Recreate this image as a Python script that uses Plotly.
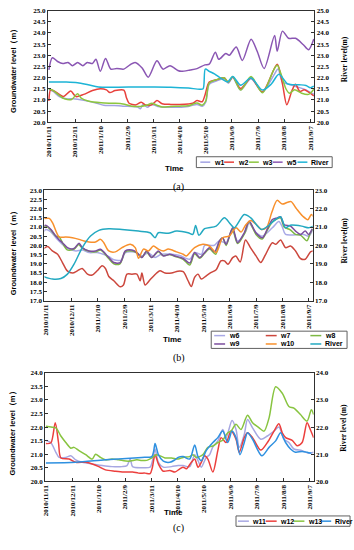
import plotly.graph_objects as go
import pandas as pd

# ---------------- data ----------------
START = "2010/11/11"
TICK_LABELS = ["2010/11/11", "2010/12/11", "2011/1/10", "2011/2/9", "2011/3/11", "2011/4/10",
               "2011/5/10", "2011/6/9", "2011/7/9", "2011/8/8", "2011/9/7"]

# Panel (a) -- days since START, groundwater / river level (m)
a_w1_day = [0, 5, 12, 20, 28, 40, 55, 63, 75, 85, 95, 102, 105, 108, 113, 118, 125, 140, 160, 170, 176, 180,
            184, 192, 201, 206, 211, 220, 232, 245, 258, 263, 268, 275, 285, 295, 304]
a_w1_val = [21.48, 21.38, 21.15, 21.05, 21.05, 20.98, 20.85, 20.76, 20.75, 20.72, 20.71, 20.68, 20.6, 20.8,
            20.67, 20.8, 20.71, 20.67, 20.71, 20.8, 20.72, 20.9, 21.7, 21.85, 21.95, 21.75, 22.0, 21.45, 21.95,
            21.35, 22.1, 22.38, 21.8, 21.7, 21.58, 21.45, 21.25]
a_w2_day = [0, 2, 6, 12, 17, 25, 31, 40, 50, 59, 66, 70, 76, 86, 89, 92, 100, 106, 111, 118, 124, 130, 140,
            150, 160, 165, 170, 176, 179, 184, 192, 201, 206, 211, 220, 232, 245, 262, 268, 273, 279, 283, 288,
            293, 298, 304]
a_w2_val = [20.95, 21.45, 21.4, 21.25, 21.15, 21.4, 21.15, 21.25, 21.42, 21.5, 21.45, 21.33, 21.42, 21.44,
            21.1, 20.85, 20.78, 20.9, 20.77, 20.78, 20.97, 20.83, 20.8, 20.8, 20.82, 20.85, 20.97, 20.92, 21.2,
            21.8, 21.9, 21.99, 21.8, 22.03, 21.51, 21.98, 21.36, 22.6, 21.72, 20.78, 21.42, 21.7, 21.38, 21.45,
            21.35, 21.18]
a_w3_day = [0, 5, 12, 18, 26, 33, 37, 45, 60, 75, 85, 95, 105, 113, 118, 124, 130, 140, 150, 160, 170, 176,
            180, 184, 192, 201, 206, 211, 220, 232, 245, 258, 262, 266, 272, 276, 282, 290, 298, 304]
a_w3_val = [21.5, 21.42, 21.2, 21.05, 21.02, 21.28, 21.08, 20.95, 20.87, 20.85, 20.82, 20.72, 20.71, 20.77,
            20.85, 20.76, 20.68, 20.71, 20.72, 20.74, 20.86, 20.76, 20.95, 21.76, 21.9, 21.99, 21.8, 22.05,
            21.44, 22.05, 21.32, 22.35, 22.55, 22.2, 21.5, 21.3, 21.45, 21.3, 21.25, 21.48]
a_w5_day = [0, 4, 10, 16, 22, 27, 33, 39, 44, 50, 54, 59, 65, 71, 78, 86, 93, 99, 107, 114, 124, 131, 139,
            148, 152, 162, 170, 179, 184, 191, 195, 203, 207, 215, 222, 232, 239, 247, 259, 262, 268, 275, 283,
            292, 298, 304]
a_w5_val = [22.35, 22.89, 22.72, 22.63, 22.68, 22.53, 22.68, 22.53, 22.68, 22.63, 22.82, 22.28, 22.86, 22.38,
            22.41, 22.38, 22.57, 22.68, 22.43, 22.02, 22.75, 22.38, 22.53, 22.32, 22.28, 22.34, 22.4, 22.57,
            22.6, 23.14, 22.82, 23.08, 23.0, 23.37, 22.77, 23.72, 23.18, 22.41, 23.88, 23.18, 24.08, 23.76,
            23.76, 23.47, 23.25, 23.73]
a_riv_day = [0, 20, 33, 45, 57, 80, 100, 120, 140, 160, 173, 177, 179.5, 184, 190, 198, 205, 211, 220, 232,
             245, 255, 264, 274, 287, 295, 300, 304]
a_riv_val = [21.8, 21.8, 21.77, 21.68, 21.58, 21.57, 21.58, 21.58, 21.57, 21.53, 21.48, 21.5, 22.38, 22.28,
             22.17, 21.95, 21.8, 22.05, 21.66, 21.98, 21.44, 21.7, 22.15, 21.72, 21.68, 21.65, 21.55, 21.62]

# Panel (b)
b_w6_day = [-3, 0.7, 6, 12, 19.5, 27, 35, 42, 50, 59, 72, 78, 87, 91, 102, 110, 117, 125, 132, 144, 153,
            164.5, 170, 178, 181.4, 192, 198, 206, 213, 219, 228.5, 232, 240, 247, 258.6, 266, 270, 273.6,
            294, 300, 305]
b_w6_val = [20.69, 20.87, 20.75, 20.42, 20.06, 19.8, 19.7, 19.75, 19.61, 19.61, 19.4, 19.22, 19.22, 19.6,
            19.64, 19.42, 19.6, 19.35, 19.52, 19.52, 19.45, 19.25, 19.61, 19.52, 20.0, 20.0, 20.24, 20.15,
            20.87, 20.24, 20.78, 21.2, 20.7, 20.5, 20.96, 21.3, 21.0, 20.6, 20.6, 20.5, 20.87]
b_w7_day = [-3, 2.6, 8, 14, 19.5, 25, 31, 36.5, 42, 48, 53.4, 59, 64.7, 68.5, 72.3, 78, 85.4, 89, 93, 98.6,
            104.3, 108, 110, 113.7, 119.3, 126.8, 130.6, 136.3, 143.8, 151, 157, 162.6, 166.3, 170, 174, 177.6,
            183.3, 189, 194.6, 200, 204, 208, 213.4, 217, 222, 228, 234, 240, 245.4, 251, 258.6, 262.4, 268,
            273.6, 279.3, 285, 290.6, 296, 302, 305]
b_w7_val = [19.79, 19.94, 19.7, 19.52, 19.07, 18.62, 18.5, 18.62, 18.75, 18.44, 18.39, 18.62, 18.89, 18.75,
            18.31, 18.08, 17.75, 17.85, 18.44, 18.44, 18.44, 18.08, 18.5, 17.85, 18.13, 18.5, 18.62, 18.5,
            18.5, 18.6, 18.57, 18.08, 17.77, 18.26, 18.44, 18.17, 18.35, 18.53, 18.68, 19.16, 19.16, 18.98,
            19.34, 19.43, 19.1, 20.3, 19.85, 19.43, 19.07, 19.52, 20.15, 20.06, 20.3, 19.88, 19.97, 19.7,
            19.29, 19.25, 19.65, 19.7]
b_w8_day = [-3, 0.7, 6, 12, 16, 20, 25, 33, 38, 42, 50, 57, 63, 72, 78, 85, 91, 99, 104, 110, 115, 121, 129,
            134, 142, 148, 157, 164.5, 170, 176, 181, 187, 194, 198, 202, 206, 213, 219, 227, 232, 240, 247, 253,
            259, 264, 268, 272, 279, 285, 291, 298, 302, 305]
b_w8_val = [21.0, 21.05, 20.85, 20.5, 20.45, 20.1, 19.76, 19.8, 20.05, 19.85, 19.68, 19.65, 19.75, 19.3,
            19.0, 19.0, 19.65, 19.7, 19.6, 19.35, 19.65, 19.35, 19.65, 19.45, 19.5, 19.4, 19.25, 18.93, 19.55,
            19.3, 19.55, 19.8, 19.52, 20.2, 20.4, 20.0, 20.9, 20.1, 20.65, 21.3, 20.6, 20.35, 20.85, 21.3,
            21.45, 21.5, 21.0, 20.85, 20.6, 20.55, 20.25, 20.7, 20.9]
b_w9_day = [-3, 0.7, 6.4, 12, 15.8, 19.5, 25.2, 32.7, 38.4, 42.1, 49.7, 57.2, 62.8, 72.3, 77.9, 85.4, 91.1,
            98.6, 104.3, 110, 115.5, 121.2, 128.7, 134.4, 141.9, 147.6, 157, 164.5, 170, 176, 181.4, 187,
            192.7, 198.3, 202, 205.9, 213.4, 219, 226.6, 232.2, 239.8, 247.3, 253, 258.6, 264.2, 268, 271.8,
            279.3, 285, 290.6, 296, 300, 304]
b_w9_val = [21.02, 21.09, 20.87, 20.51, 20.3, 20.15, 19.88, 19.83, 20.12, 19.88, 19.7, 19.7, 19.79, 19.34,
            19.07, 19.07, 19.7, 19.75, 19.61, 19.34, 19.7, 19.34, 19.7, 19.43, 19.52, 19.43, 19.29, 19.04,
            19.61, 19.34, 19.61, 19.88, 19.65, 20.24, 20.42, 20.06, 20.96, 20.15, 20.69, 21.32, 20.69, 20.42,
            20.91, 21.41, 21.5, 21.56, 21.14, 21.05, 20.78, 20.6, 20.78, 20.6, 20.9]
b_w10_day = [-3, 4.5, 8.3, 15.8, 23.3, 30.9, 38.4, 44, 49.7, 57.2, 62.9, 66.6, 72.3, 79.8, 87.3, 96.8,
             102.4, 106.2, 111.8, 117.5, 123.1, 128.8, 134.4, 140, 149.4, 157, 160.7, 166.3, 170, 179.5, 187,
             194.6, 202, 209.6, 217.2, 223, 228, 234, 240, 246, 252, 258, 264, 270, 276, 280, 286, 293, 299,
             303, 305.6]
b_w10_val = [21.45, 21.47, 21.23, 20.46, 20.46, 20.42, 20.33, 20.24, 20.19, 20.19, 20.33, 20.15, 19.7, 19.65,
             19.88, 20.06, 19.88, 19.3, 19.8, 19.7, 19.97, 19.8, 19.7, 19.8, 19.65, 19.52, 19.43, 19.7, 19.88,
             20.06, 19.97, 19.61, 20.42, 20.51, 20.96, 20.73, 21.1, 21.35, 21.15, 20.87, 20.98, 21.8, 22.45,
             22.25, 22.35, 22.38, 22.0, 21.6, 21.4, 21.68, 21.55]
b_riv_day = [-3, 8.2, 17.7, 25.2, 32.7, 42.1, 51.5, 61, 72.3, 87.3, 106.1, 119.3, 125, 128.7, 140, 149.4,
             162.6, 168, 171.2, 175, 181.4, 194.6, 204, 211, 215.3, 226.6, 234, 246.5, 262.4, 268, 273.6, 279,
             292, 300, 305]
b_riv_val = [18.32, 18.17, 18.2, 18.44, 18.98, 19.88, 20.51, 20.82, 20.91, 20.87, 20.78, 20.69, 20.42, 20.69,
             20.66, 20.78, 20.69, 20.6, 21.09, 20.55, 20.91, 21.05, 21.5, 21.15, 20.96, 21.68, 21.5, 20.87,
             21.41, 21.56, 20.96, 21.1, 21.05, 20.96, 21.05]

# Panel (c)
c_w11_day = [0, 5.7, 11.3, 15, 22.6, 28.3, 33.9, 41.4, 52.7, 64, 75.2, 86.5, 92.2, 95.9, 98.6, 109, 118.5,
             121.5, 124.1, 127.9, 133.5, 142.9, 150.4, 156, 163.5, 169.2, 173, 176.7, 182.3, 186.1, 189.9,
             195.5, 201.1, 204.9, 211.7, 216.2, 219.9, 225.6, 229.3, 235, 244.4, 251.9, 259.4, 265, 270.7,
             276.3, 282, 291.4, 298.9, 304.5]
c_w11_val = [21.51, 21.42, 21.07, 20.88, 20.88, 20.94, 20.79, 20.7, 20.64, 20.58, 20.54, 20.54, 20.58, 20.82,
             20.54, 20.5, 20.52, 20.8, 21.19, 20.7, 20.52, 20.54, 20.58, 20.58, 20.54, 20.98, 20.76, 20.52,
             20.88, 20.98, 21.27, 21.49, 21.91, 21.61, 22.24, 21.91, 21.25, 21.73, 22.28, 21.97, 21.55, 21.67,
             21.85, 22.0, 21.55, 21.43, 21.19, 21.13, 21.03, 21.07]
c_w12_day = [0, 5.7, 10.6, 14.3, 17, 26.4, 33.9, 45.2, 52.7, 60.2, 67.7, 79, 88.4, 98.6, 105.3, 112.8, 118.5,
             121, 124.1, 127.9, 133.5, 141, 146.7, 152.3, 156, 159.8, 165.4, 169.2, 173, 176.7, 180.5, 184.2,
             189.9, 195.5, 199.3, 204.9, 210.5, 216.2, 219.9, 225.6, 229.3, 235, 244.4, 251.9, 259.4, 265,
             268.8, 272.6, 280.1, 285.7, 291.4, 297, 300.8, 304.5]
c_w12_val = [21.39, 21.42, 22.16, 21.43, 20.86, 20.82, 20.7, 20.7, 20.64, 20.54, 20.42, 20.37, 20.34, 20.34,
             20.3, 20.3, 20.28, 20.5, 20.98, 20.64, 20.37, 20.4, 20.34, 20.46, 20.52, 20.46, 20.7, 20.82, 20.52,
             20.7, 20.94, 20.82, 20.34, 21.13, 21.61, 21.43, 21.85, 21.55, 21.07, 21.61, 21.79, 21.61, 21.15,
             21.43, 21.85, 22.12, 21.79, 21.61, 21.51, 21.31, 21.43, 22.16, 21.9, 21.61]
c_w13_day = [0, 5.7, 11.3, 17, 22.6, 28.3, 32, 37.6, 45.2, 52.7, 56.5, 62.1, 67.7, 75.2, 82.8, 94, 103.4,
             109, 114.7, 120.4, 126, 135.4, 142.9, 150.4, 156, 163.5, 167.3, 171, 178.6, 184.2, 189.9, 195.5,
             201.1, 206.8, 210.5, 216.2, 221.8, 229.3, 235, 242.5, 248.1, 253.8, 261.3, 268.8, 276.3, 282,
             289.5, 297, 301.9, 304.5]
c_w13_val = [22.03, 22.0, 21.97, 21.67, 21.43, 21.22, 21.25, 21.13, 20.98, 20.82, 21.0, 20.88, 20.79, 20.82,
             20.79, 20.74, 20.79, 20.77, 20.77, 20.86, 20.98, 20.86, 20.86, 20.82, 20.88, 20.91, 20.98, 20.88,
             20.98, 21.25, 21.3, 21.43, 21.52, 21.79, 21.85, 22.1, 21.91, 22.44, 22.16, 21.97, 21.85, 22.34,
             23.49, 23.25, 22.76, 22.7, 22.46, 22.22, 22.64, 22.46]
c_riv_day = [0, 33.9, 67.7, 109, 120.4, 122.5, 124.1, 126, 127.9, 133.5, 141, 146.7, 150.4, 156, 163.5,
             169.2, 173, 176.7, 182.3, 189.9, 195.5, 201.1, 206.8, 211.7, 216.2, 220.7, 225.6, 229.3, 235,
             245.5, 253.8, 261.3, 266.9, 272.6, 278.2, 283.8, 291.4, 297, 301.9]
c_riv_val = [20.67, 20.7, 20.79, 20.88, 20.91, 21.1, 21.39, 21.2, 20.98, 20.74, 20.7, 20.79, 20.88, 20.91,
             20.82, 21.34, 20.91, 20.76, 21.13, 21.43, 21.61, 21.85, 21.43, 21.85, 21.61, 20.98, 21.43, 21.79,
             21.55, 20.94, 21.25, 21.49, 21.79, 21.43, 21.19, 21.07, 21.1, 21.07, 21.03]

# ---------------- figure ----------------
W, H = 354, 550
t0 = pd.to_datetime(START, format="%Y/%m/%d")


def dates(days):
    return [t0 + pd.Timedelta(days=d) for d in days]


def fx(x):
    return x / W


def fy(y):
    return 1 - y / H


panels = [
    dict(xa="x", yl="y", yr="y2", xdom=(45.4, 313.9), ydom=(6.7, 120), lr=(20, 25), ldt=0.5, rr=(20, 25), rdt=0.5,
         series=[("w1", a_w1_day, a_w1_val, "#a3a3e3", False),
                 ("w2", a_w2_day, a_w2_val, "#e8413c", False),
                 ("w3", a_w3_day, a_w3_val, "#8cc63f", False),
                 ("w5", a_w5_day, a_w5_val, "#8a56b3", False),
                 ("River", a_riv_day, a_riv_val, "#1db4d6", True)]),
    dict(xa="x2", yl="y3", yr="y4", xdom=(41.8, 312.3), ydom=(189, 301), lr=(17, 23), ldt=0.5, rr=(17, 23), rdt=1,
         series=[("w6", b_w6_day, b_w6_val, "#a9a9e6", False),
                 ("w7", b_w7_day, b_w7_val, "#cc473d", False),
                 ("w8", b_w8_day, b_w8_val, "#7db843", False),
                 ("w9", b_w9_day, b_w9_val, "#7b4e9e", False),
                 ("w10", b_w10_day, b_w10_val, "#f8902c", False),
                 ("River", b_riv_day, b_riv_val, "#23a9c1", True)]),
    dict(xa="x3", yl="y5", yr="y6", xdom=(42.4, 313.3), ydom=(374.3, 484.3), lr=(20, 24), ldt=0.5, rr=(20, 24), rdt=1,
         series=[("w11", c_w11_day, c_w11_val, "#a7a7e2", False),
                 ("w12", c_w12_day, c_w12_val, "#ec3f3d", False),
                 ("w13", c_w13_day, c_w13_val, "#88c440", False),
                 ("River", c_riv_day, c_riv_val, "#2e90e0", True)]),
]

fig = go.Figure()
for p in panels:
    for name, d, v, col, right in p["series"]:
        fig.add_trace(go.Scatter(
            x=dates(d), y=v, mode="lines", name=name, showlegend=False, hoverinfo="skip",
            line=dict(color=col, width=1.5, shape="spline", smoothing=0.8),
            xaxis=p["xa"], yaxis=p["yr"] if right else p["yl"]))

tickfont = dict(family="Liberation Serif", size=7, color="black", weight="bold")
common = dict(showline=True, linecolor="#303030", linewidth=1, ticks="inside", ticklen=3,
              tickcolor="#303030", showgrid=False, zeroline=False, tickfont=tickfont, fixedrange=True)
tickvals = pd.to_datetime(TICK_LABELS, format="%Y/%m/%d")
xrange = [t0 + pd.Timedelta(days=-1), t0 + pd.Timedelta(days=304.5)]

layout = dict(width=W, height=H, margin=dict(l=0, r=0, t=0, b=0),
              paper_bgcolor="white", plot_bgcolor="white", showlegend=False)

for i, p in enumerate(panels):
    xk = "xaxis" if i == 0 else f"xaxis{i + 1}"
    ylk = "yaxis" if p["yl"] == "y" else "yaxis" + p["yl"][1:]
    yrk = "yaxis" + p["yr"][1:]
    layout[xk] = dict(common, domain=[fx(p["xdom"][0]), fx(p["xdom"][1])], anchor=p["yl"], type="date",
                      range=xrange, tickvals=list(tickvals), ticktext=TICK_LABELS, tickangle=-90, mirror=True)
    layout[ylk] = dict(common, domain=[fy(p["ydom"][1]), fy(p["ydom"][0])], anchor=p["xa"], range=list(p["lr"]),
                       dtick=p["ldt"], tick0=p["lr"][0], tickformat=".1f", mirror=True)
    layout[yrk] = dict(common, overlaying=p["yl"], side="right", anchor=p["xa"], range=list(p["rr"]),
                       dtick=p["rdt"], tick0=p["rr"][0], tickformat=".1f")

fig.update_layout(**layout)

# ---- text annotations (axis titles, captions) ----
sans_b = dict(family="Liberation Sans", size=7.5, color="black", weight="bold")
serif_b = dict(family="Liberation Serif", size=7.5, color="black", weight="bold")
anns = []
left_titles = [66, 251, 434]
right_titles = [(56, "River level(m)"), (240, "River level(m)"), (430, "River level (m)")]
time_pos = [(173, 160), (171, 340), (172, 523)]
caps = [(177, 178, "(a)"), (177, 359, "(b)"), (177, 540, "(c)")]
for yc in left_titles:
    anns.append(dict(x=fx(10), y=fy(yc), xref="paper", yref="paper", text="Groundwater level（m）",
                     textangle=-90, showarrow=False, font=sans_b, xanchor="center", yanchor="middle"))
for yc, t in right_titles:
    anns.append(dict(x=fx(344), y=fy(yc), xref="paper", yref="paper", text=t,
                     textangle=-90, showarrow=False, font=serif_b, xanchor="center", yanchor="middle"))
for x, y in time_pos:
    anns.append(dict(x=fx(x), y=fy(y), xref="paper", yref="paper", text="Time", showarrow=False,
                     font=dict(family="Liberation Sans", size=8, color="black", weight="bold")))
for x, y, t in caps:
    anns.append(dict(x=fx(x), y=fy(y), xref="paper", yref="paper", text=t, showarrow=False,
                     font=dict(family="Liberation Serif", size=10, color="black")))

# ---- custom legends (line sample + label) ----
shapes = []
legend_boxes = [(195, 155, 332, 166), (210, 332, 347, 349.5), (235, 519.5, 350, 530)]
legend_slots = [
    [(199, 160.5), (223, 160.5), (248, 160.5), (272, 160.5), (297, 160.5)],
    [(213, 336.5), (265, 336.5), (310, 336.5), (213, 345), (265, 345), (310, 345)],
    [(237, 524.8), (265, 524.8), (293, 524.8), (320, 524.8)],
]
line_len = [10, 11, 11]
legfont = dict(family="Liberation Sans", size=7, color="black", weight="bold")
for p, box, slots, ll in zip(panels, legend_boxes, legend_slots, line_len):
    shapes.append(dict(type="rect", xref="paper", yref="paper", x0=fx(box[0]), x1=fx(box[2]),
                       y0=fy(box[3]), y1=fy(box[1]), line=dict(color="#606060", width=1),
                       fillcolor="white", layer="above"))
    for (name, d, v, col, right), (lx, ly) in zip(p["series"], slots):
        shapes.append(dict(type="line", xref="paper", yref="paper", x0=fx(lx), x1=fx(lx + ll),
                           y0=fy(ly), y1=fy(ly), line=dict(color=col, width=1.5), layer="above"))
        anns.append(dict(x=fx(lx + ll + 1.5), y=fy(ly), xref="paper", yref="paper", text=name,
                         showarrow=False, xanchor="left", yanchor="middle", font=legfont))

fig.update_layout(annotations=anns, shapes=shapes)
fig.write_html("out.html", config={"displayModeBar": False, "staticPlot": True},
               post_script="document.body.style.margin='0';document.body.style.overflow='hidden';")
